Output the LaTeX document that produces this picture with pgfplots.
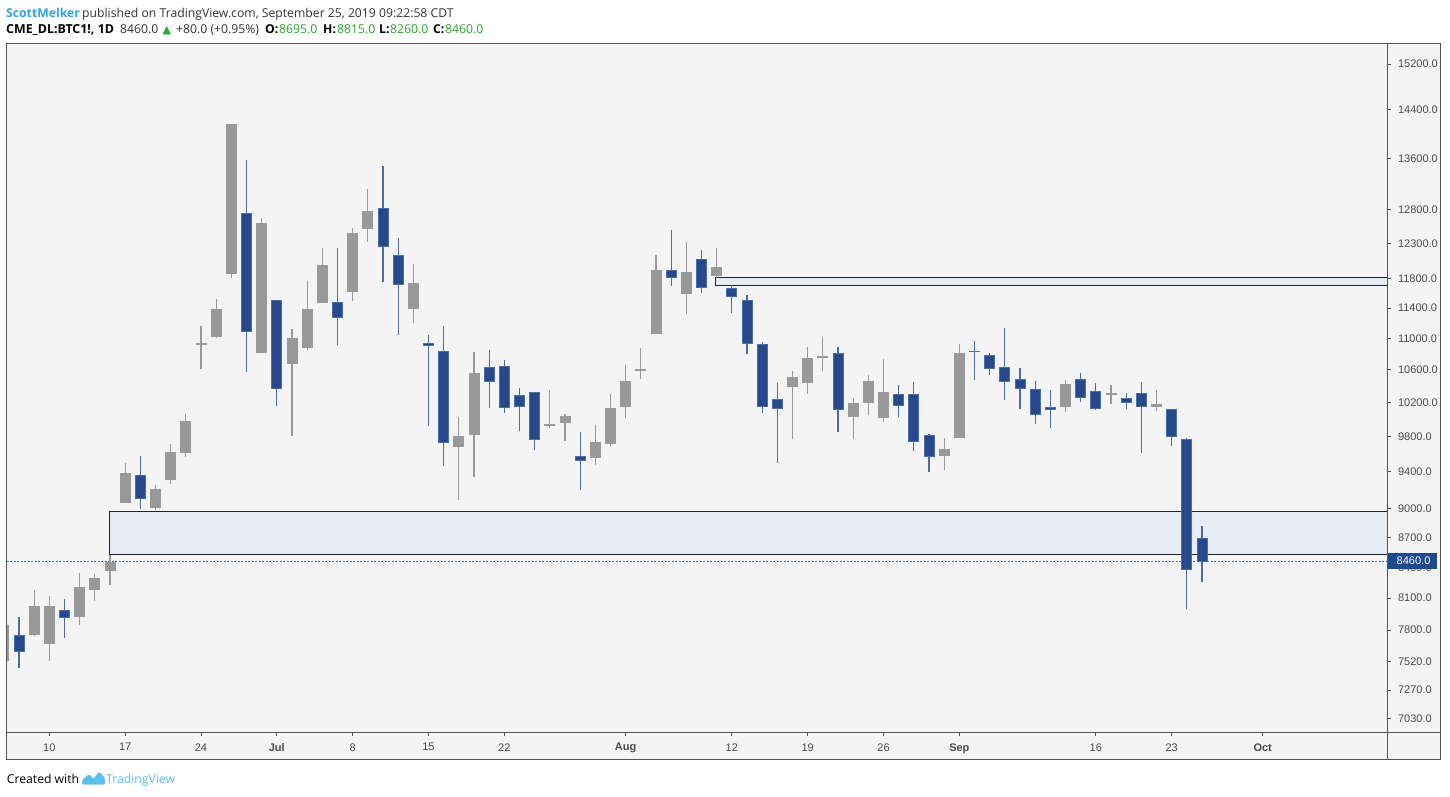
\documentclass[border=0pt]{standalone}
\usepackage{pgfplots}
\pgfplotsset{compat=1.18}
\usepackage{pgfplotstable}
\usepackage{fontspec}
\setmainfont{Liberation Sans}
\newfontfamily\hdr{Open Sans}
\newfontfamily\sym{DejaVu Sans}
\definecolor{bluebody}{HTML}{27498B}
\definecolor{blueedge}{HTML}{4A6DAA}
\definecolor{bluewick}{HTML}{4D6CA6}
\definecolor{graybody}{HTML}{999999}
\definecolor{bgc}{HTML}{F4F4F4}
\definecolor{framegray}{HTML}{555555}
\definecolor{labgray}{HTML}{4A4A4A}
\definecolor{boxfill}{HTML}{E8EDF5}
\definecolor{boxedge}{HTML}{222222}
\definecolor{curblue}{HTML}{1E4A8C}
\definecolor{curline}{HTML}{4A6DAA}
\definecolor{tvblue}{HTML}{2FA3E6}
\definecolor{tvlogo}{HTML}{5BC0EB}
\definecolor{upgreen}{HTML}{2BA52B}
\definecolor{hdrgray}{HTML}{333333}

\pgfplotstableread{
i o h l c d
-3 7525 7895 7496 7844 0
-2 7748 7921 7461 7606 1
-1 7761 8181 7748 8018 0
0 7678 8122 7525 8018 0
1 7986 8094 7731 7919 1
2 7925 8342 7844 8198 0
3 8181 8337 8077 8287 0
4 8364 8520 8222 8444 0
5 9066 9500 9060 9387 0
6 9362 9576 8997 9112 1
7 9012 9254 8989 9211 0
8 9314 9712 9269 9622 0
9 9614 10064 9569 9977 0
10 10925 11163 10614 10940 0
11 11026 11524 11008 11377 0
12 11870 14160 11814 14147 0
13 12749 13573 10578 11089 1
14 10817 12678 10810 12588 0
15 11506 11510 10159 10368 1
16 10677 11123 9809 10994 0
17 10881 11771 10851 11376 0
18 11470 12238 11465 11994 0
19 11479 12238 10916 11278 1
20 11619 12529 11497 12441 0
21 12515 13118 12325 12768 0
22 12824 13478 11757 12257 1
23 12132 12383 11045 11719 1
24 11389 12008 11203 11729 0
25 10938 11045 9921 10912 1
26 10835 11163 9465 9728 1
27 9690 10028 9093 9794 0
28 9817 10826 9344 10549 0
29 10632 10851 10135 10458 1
30 10636 10724 10079 10143 1
31 10288 10376 9867 10155 1
32 10324 10330 9648 9768 1
33 9927 10351 9902 9944 0
34 9961 10063 9751 10028 0
35 9574 9852 9204 9528 1
36 9558 9933 9480 9736 0
37 9717 10303 9694 10123 0
38 10151 10661 10019 10450 0
39 10586 10877 10490 10599 0
40 11062 12136 11055 11910 0
41 11920 12500 11705 11822 1
42 11596 12325 11326 11882 0
43 12076 12209 11609 11683 1
44 11844 12238 11812 11952 0
45 11669 11715 11340 11560 1
46 11506 11577 10805 10938 1
47 10925 10955 10079 10155 1
48 10240 10437 9502 10131 1
49 10392 10586 9775 10511 0
50 10441 10890 10307 10749 0
51 10753 11019 10590 10774 0
52 10809 10890 9855 10119 1
53 10031 10255 9775 10183 0
54 10199 10536 10055 10461 0
55 10019 10736 9972 10327 0
56 10300 10414 10031 10168 1
57 10300 10450 9637 9745 1
58 9814 9829 9402 9574 1
59 9580 9783 9424 9656 0
60 9786 10929 9780 10801 0
61 10838 10968 10478 10826 1
62 10782 10813 10540 10620 1
63 10627 11136 10235 10458 1
64 10478 10620 10127 10372 1
65 10360 10461 9949 10059 1
66 10143 10351 9902 10119 1
67 10151 10474 10091 10414 0
68 10483 10561 10211 10264 1
69 10336 10437 10114 10131 1
70 10294 10414 10187 10303 0
71 10252 10315 10127 10204 1
72 10312 10450 9615 10155 1
73 10151 10351 10103 10180 0
74 10119 10125 9694 9802 1
75 9768 9786 8001 8383 1
76 8695 8815 8260 8460 1
}\candles

\pgfplotstableread{
x y
3.94 8966
88.23 8966
88.23 8523
3.94 8523
}\lowbox

\pgfplotstableread{
x y
43.91 11813
88.23 11813
88.23 11701
43.91 11701
}\highbox

\begin{document}
\begin{tikzpicture}
\useasboundingbox (0pt,0pt) rectangle (1450pt,796pt);
\fill[white] (0pt,0pt) rectangle (1450pt,796pt);
\fill[bgc] (6.7pt,36.7pt) rectangle (1440.2pt,752.4pt);

\begin{axis}[
  at={(6.7pt,63.5pt)}, anchor=south west,
  scale only axis, width=1380.8pt, height=688.9pt,
  xmin=-2.809, xmax=88.23,
  ymode=log, ymin=6915, ymax=15570,
  xtick={0,5,10,15,20,25,30,38,45,50,55,60,69,74,80},
  xticklabels={10,17,24,\textbf{Jul},8,15,22,\textbf{Aug},12,19,26,\textbf{Sep},16,23,\textbf{Oct}},
  ytick={7030,7270,7520,7800,8100,8400,8700,9000,9400,9800,10200,10600,11000,11400,11800,12300,12800,13600,14400,15200},
  yticklabels={7030.0,7270.0,7520.0,7800.0,8100.0,8400.0,8700.0,9000.0,9400.0,9800.0,10200.0,10600.0,11000.0,11400.0,11800.0,12300.0,12800.0,13600.0,14400.0,15200.0},
  minor ytick={}, minor xtick={},
  xtick pos=left, ytick pos=right, yticklabel pos=right,
  tick align=outside, major tick length=3.5pt,
  axis line style={draw=framegray, line width=1pt},
  tick style={draw=framegray, line width=0.8pt},
  xticklabel style={font=\fontsize{11}{13}\selectfont, text=labgray, yshift=-4pt},
  yticklabel style={font=\fontsize{11}{13}\selectfont, text=labgray, anchor=west, xshift=3.5pt},
  clip mode=individual,
]
\addplot[fill=boxfill, draw=boxedge, line width=1pt, forget plot] table {\lowbox} -- cycle;
\addplot[fill=boxfill, draw=boxedge, line width=1pt, forget plot] table {\highbox} -- cycle;
\addplot[curline, dash pattern=on 2pt off 1.5pt, line width=0.8pt, forget plot] coordinates {(-2.809,8460) (88.23,8460)};

\pgfplotstablegetrowsof{\candles}
\pgfmathtruncatemacro\nrows{\pgfplotsretval-1}
\pgfplotsforeachungrouped \r in {0,...,\nrows}{%
  \pgfplotstablegetelem{\r}{i}\of\candles \let\ci\pgfplotsretval
  \pgfplotstablegetelem{\r}{o}\of\candles \let\co\pgfplotsretval
  \pgfplotstablegetelem{\r}{h}\of\candles \let\ch\pgfplotsretval
  \pgfplotstablegetelem{\r}{l}\of\candles \let\cl\pgfplotsretval
  \pgfplotstablegetelem{\r}{c}\of\candles \let\cc\pgfplotsretval
  \pgfplotstablegetelem{\r}{d}\of\candles \let\cd\pgfplotsretval
  \ifnum\cd=1
    \def\wcol{bluewick}\def\bfil{bluebody}\def\bdr{blueedge}%
  \else
    \def\wcol{graybody}\def\bfil{graybody}\def\bdr{graybody}%
  \fi
  \pgfmathsetmacro\xa{\ci-0.33}%
  \pgfmathsetmacro\xb{\ci+0.33}%
  \edef\tmp{%
    \noexpand\addplot[\wcol, line width=1.1pt, forget plot] coordinates {(\ci,\cl) (\ci,\ch)};
    \noexpand\addplot[fill=\bfil, draw=\bdr, line width=0.9pt, forget plot] coordinates {(\xa,\co) (\xb,\co) (\xb,\cc) (\xa,\cc)} -- cycle;
  }%
  \tmp
}

\node[fill=curblue, text=white, anchor=west, minimum height=16pt, inner sep=0pt, font=\fontsize{11}{13}\selectfont] at (axis cs:88.23,8460) {\makebox[49.5pt][l]{\hspace*{9pt}8460.0}};
\end{axis}

\draw[framegray, line width=1pt] (6.7pt,36.7pt) rectangle (1440.2pt,752.4pt);
\draw[framegray, line width=1pt] (1387.5pt,36.7pt) -- (1387.5pt,752.4pt);
\draw[framegray, line width=1pt] (6.7pt,63.5pt) -- (1440.2pt,63.5pt);

% header
\node[anchor=base west, inner sep=0pt, text=tvblue, font=\hdr\bfseries\fontsize{12.2}{14}\selectfont] at (6pt,778.7pt) {ScottMelker};
\node[anchor=base west, inner sep=0pt, text=hdrgray, font=\hdr\fontsize{12.2}{14}\selectfont] at (82pt,778.7pt) {published on TradingView.com, September 25, 2019 09:22:58 CDT};
\node[anchor=base west, inner sep=0pt, text=black, font=\hdr\bfseries\fontsize{12.4}{14}\selectfont] at (6pt,762pt) {CME\_DL:BTC1!, 1D};
\node[anchor=base west, inner sep=0pt, text=hdrgray, font=\hdr\fontsize{12.2}{14}\selectfont] at (120pt,762pt) {8460.0};
\node[anchor=base west, inner sep=0pt, text=upgreen, font=\sym\fontsize{11}{13}\selectfont] at (162.5pt,762pt) {▲};
\node[anchor=base west, inner sep=0pt, text=hdrgray, font=\hdr\fontsize{12.2}{14}\selectfont] at (176pt,762pt) {+80.0 (+0.95\%)};
\node[anchor=base west, inner sep=0pt, text=black, font=\hdr\bfseries\fontsize{12.2}{14}\selectfont] at (265pt,762pt) {O:};
\node[anchor=base west, inner sep=0pt, text=upgreen, font=\hdr\fontsize{12.2}{14}\selectfont] at (279pt,762pt) {8695.0};
\node[anchor=base west, inner sep=0pt, text=black, font=\hdr\bfseries\fontsize{12.2}{14}\selectfont] at (323pt,762pt) {H:};
\node[anchor=base west, inner sep=0pt, text=upgreen, font=\hdr\fontsize{12.2}{14}\selectfont] at (337pt,762pt) {8815.0};
\node[anchor=base west, inner sep=0pt, text=black, font=\hdr\bfseries\fontsize{12.2}{14}\selectfont] at (379pt,762pt) {L:};
\node[anchor=base west, inner sep=0pt, text=upgreen, font=\hdr\fontsize{12.2}{14}\selectfont] at (390pt,762pt) {8260.0};
\node[anchor=base west, inner sep=0pt, text=black, font=\hdr\bfseries\fontsize{12.2}{14}\selectfont] at (433pt,762pt) {C:};
\node[anchor=base west, inner sep=0pt, text=upgreen, font=\hdr\fontsize{12.2}{14}\selectfont] at (445pt,762pt) {8460.0};

% footer
\node[anchor=base west, inner sep=0pt, text=black, font=\hdr\fontsize{12.2}{14}\selectfont] at (6.7pt,12.7pt) {Created with};
\fill[tvlogo, rounded corners=1.5pt] (82pt,11.5pt) -- (105pt,11.5pt) -- (105pt,18pt) -- (99pt,24.5pt) -- (93.5pt,17pt) -- (89pt,22pt) -- (82pt,16pt) -- cycle;
\node[anchor=base west, inner sep=0pt, text=tvlogo, font=\hdr\fontsize{12.2}{14}\selectfont] at (106pt,12.7pt) {TradingView};
\end{tikzpicture}
\end{document}
